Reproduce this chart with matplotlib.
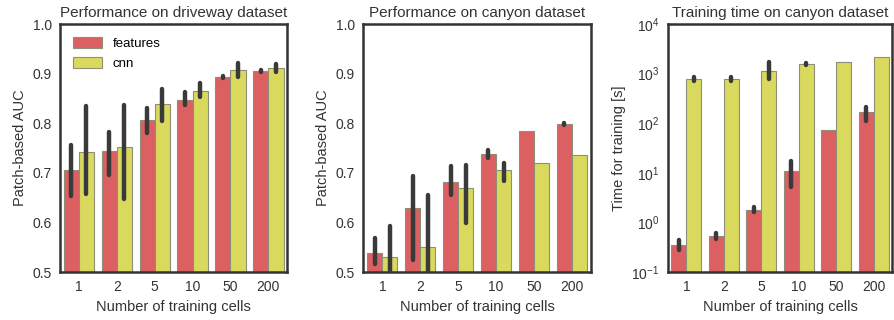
import numpy as np
import matplotlib
matplotlib.use("Agg")
import matplotlib.pyplot as plt

plt.rcParams['font.family'] = ['Liberation Sans', 'DejaVu Sans']
plt.rcParams['mathtext.fontset'] = 'custom'
plt.rcParams['mathtext.rm'] = 'Liberation Sans'
plt.rcParams['mathtext.default'] = 'regular'

cells = ["1", "2", "5", "10", "50", "200"]

# driveway AUC
drive_feat = [0.706, 0.743, 0.807, 0.847, 0.893, 0.905]
drive_feat_lo = [0.654, 0.696, 0.781, 0.837, 0.891, 0.903]
drive_feat_hi = [0.757, 0.783, 0.830, 0.862, 0.895, 0.907]
drive_cnn = [0.741, 0.753, 0.838, 0.865, 0.908, 0.911]
drive_cnn_lo = [0.657, 0.647, 0.804, 0.853, 0.893, 0.904]
drive_cnn_hi = [0.834, 0.837, 0.869, 0.882, 0.922, 0.919]

# canyon AUC
canyon_feat = [0.539, 0.629, 0.682, 0.738, 0.784, 0.798]
canyon_feat_lo = [0.517, 0.525, 0.656, 0.729, 0.784, 0.796]
canyon_feat_hi = [0.569, 0.693, 0.713, 0.745, 0.784, 0.801]
canyon_cnn = [0.530, 0.550, 0.670, 0.706, 0.720, 0.736]
canyon_cnn_lo = [0.48, 0.48, 0.598, 0.683, 0.720, 0.736]
canyon_cnn_hi = [0.592, 0.656, 0.716, 0.720, 0.720, 0.736]

# canyon training time [s]
time_feat = [0.344, 0.52, 1.82, 10.9, 71.6, 167]
time_feat_lo = [0.277, 0.46, 1.6, 5.1, 71.6, 109]
time_feat_hi = [0.44, 0.6, 2.05, 17, 71.6, 211]
time_cnn = [784, 784, 1135, 1549, 1722, 2140]
time_cnn_lo = [720, 720, 780, 1470, 1722, 2140]
time_cnn_hi = [860, 860, 1740, 1630, 1722, 2140]

red = "#dc5f62"
yellow = "#d9d95e"
dark = "#333333"

fig = plt.figure(figsize=(8.95, 3.2), dpi=100)
positions = [[0.067, 0.15, 0.254, 0.775],
             [0.406, 0.15, 0.254, 0.775],
             [0.746, 0.15, 0.251, 0.775]]

panels = [
    ("Performance on driveway dataset", "Patch-based AUC",
     drive_feat, drive_feat_lo, drive_feat_hi, drive_cnn, drive_cnn_lo, drive_cnn_hi),
    ("Performance on canyon dataset", "Patch-based AUC",
     canyon_feat, canyon_feat_lo, canyon_feat_hi, canyon_cnn, canyon_cnn_lo, canyon_cnn_hi),
    ("Training time on canyon dataset", "Time for training [s]",
     time_feat, time_feat_lo, time_feat_hi, time_cnn, time_cnn_lo, time_cnn_hi),
]

x = np.arange(len(cells))
w = 0.4
for i, (title, ylabel, f, flo, fhi, c, clo, chi) in enumerate(panels):
    ax = fig.add_axes(positions[i])
    ax.bar(x - w / 2, f, w, color=red, edgecolor="#8f8f78", linewidth=0.8, label="features")
    ax.bar(x + w / 2, c, w, color=yellow, edgecolor="#8f8f78", linewidth=0.8, label="cnn")
    for xs, lo, hi in [(x - w / 2, flo, fhi), (x + w / 2, clo, chi)]:
        for xx, l, h in zip(xs, lo, hi):
            if h > l:
                ax.plot([xx, xx], [l, h], color="#3a3a3a", lw=3.2, solid_capstyle="round", zorder=3)
    ax.set_xlim(-0.5, 5.5)
    if i == 2:
        ax.set_yscale("log")
        ax.set_ylim(0.1, 1e4)
        ax.minorticks_off()
    else:
        ax.set_ylim(0.5, 1.0)
        ax.set_yticks([0.5, 0.6, 0.7, 0.8, 0.9, 1.0])
        ax.set_yticklabels(["0.5", "0.6", "0.7", "0.8", "0.9", "1.0"])
    ax.set_xticks(x)
    ax.set_xticklabels(cells)
    ax.tick_params(length=0, labelsize=10, colors=dark, pad=6)
    ax.set_title(title, fontsize=11, color=dark, pad=5)
    ax.set_xlabel("Number of training cells", fontsize=10.5, color=dark)
    ax.set_ylabel(ylabel, fontsize=10.5, color=dark)
    for s in ax.spines.values():
        s.set_color(dark)
        s.set_linewidth(1.8)
    if i == 0:
        ax.legend(loc="upper left", frameon=False, fontsize=9.5, handlelength=2.2,
                  handleheight=0.9, borderaxespad=0.6)

fig.savefig("out.png", dpi=100)
